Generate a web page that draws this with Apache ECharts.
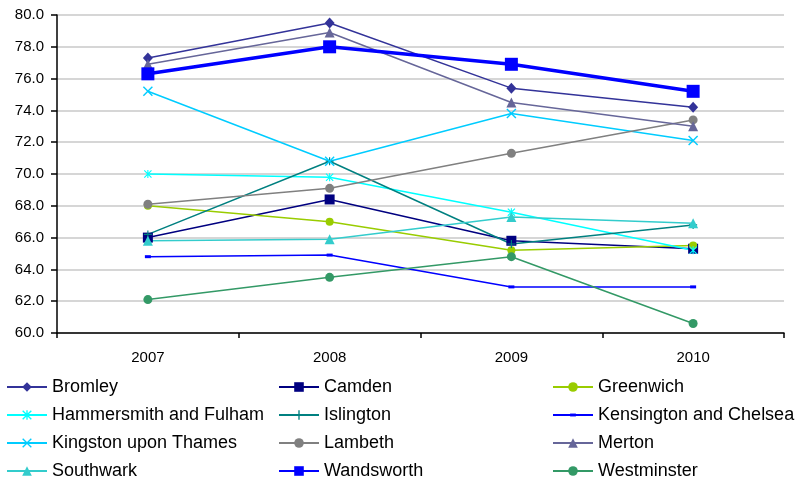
<!DOCTYPE html>
<html>
<head>
<meta charset="utf-8">
<script src="https://cdn.jsdelivr.net/npm/echarts@6/dist/echarts.min.js"></script>
<style>
  html, body { margin: 0; padding: 0; background: #fff; }
  #chart { width: 801px; height: 481px; }
</style>
</head>
<body>
<div id="chart"></div>
<script>
// Years on the category axis
const years = ['2007', '2008', '2009', '2010'];

// Values per borough
const bromley      = [77.3, 79.5, 75.4, 74.2];
const camden       = [66.0, 68.4, 65.8, 65.3];
const greenwich    = [68.0, 67.0, 65.2, 65.5];
const hammersmith  = [70.0, 69.8, 67.6, 65.2];
const islington    = [66.2, 70.8, 65.6, 66.8];
const kensington   = [64.8, 64.9, 62.9, 62.9];
const kingston     = [75.2, 70.8, 73.8, 72.1];
const lambeth      = [68.1, 69.1, 71.3, 73.4];
const merton       = [76.9, 78.9, 74.5, 73.0];
const southwark    = [65.8, 65.9, 67.3, 66.9];
const wandsworth   = [76.3, 78.0, 76.9, 75.2];
const westminster  = [62.1, 63.5, 64.8, 60.6];

// Y axis range and tick step
const yMin = 60, yMax = 80, yStep = 2;

const xShape = 'path://M0,1 L1,0 L5,4 L9,0 L10,1 L6,5 L10,9 L9,10 L5,6 L1,10 L0,9 L4,5 Z';
const plusShape = 'path://M4.3,0 H5.7 V4.3 H10 V5.7 H5.7 V10 H4.3 V5.7 H0 V4.3 H4.3 Z';
const starShape = 'path://M0,1 L1,0 L5,4 L9,0 L10,1 L6,5 L10,9 L9,10 L5,6 L1,10 L0,9 L4,5 Z M4.3,0 H5.7 V10 H4.3 Z';
// short horizontal dash centred in a 10x10 box (the lone moves fix the box size)
const dashShape = 'path://M0,0 M10,10 M2,3.5 H8 V6.5 H2 Z';

const defs = [
  { name: 'Bromley', data: bromley, color: '#333399', symbol: 'diamond', size: [10, 11] },
  { name: 'Camden', data: camden, color: '#000080', symbol: 'rect', size: 10 },
  { name: 'Greenwich', data: greenwich, color: '#99CC00', symbol: 'circle', size: 8 },
  { name: 'Hammersmith and Fulham', data: hammersmith, color: '#00FFFF', symbol: starShape, size: 8 },
  { name: 'Islington', data: islington, color: '#008080', symbol: plusShape, size: 8 },
  { name: 'Kensington and Chelsea', data: kensington, color: '#0000FF', symbol: dashShape, size: 10 },
  { name: 'Kingston upon Thames', data: kingston, color: '#00CCFF', symbol: xShape, size: 10 },
  { name: 'Lambeth', data: lambeth, color: '#808080', symbol: 'circle', size: 9 },
  { name: 'Merton', data: merton, color: '#666699', symbol: 'triangle', size: 10 },
  { name: 'Southwark', data: southwark, color: '#33CCCC', symbol: 'triangle', size: 10 },
  { name: 'Wandsworth', data: wandsworth, color: '#0000FF', symbol: 'rect', size: 13, width: 3.5 },
  { name: 'Westminster', data: westminster, color: '#339966', symbol: 'circle', size: 9 }
];

const series = defs.map(d => ({
  name: d.name,
  type: 'line',
  data: d.data,
  symbol: d.symbol,
  symbolSize: d.size,
  symbolKeepAspect: true,
  showAllSymbol: true,
  animation: false,
  lineStyle: { color: d.color, width: d.width || 1.5 },
  itemStyle: { color: d.color, borderWidth: 0 }
}));

// Legend laid out in three columns
const legendCols = [
  ['Bromley', 'Hammersmith and Fulham', 'Kingston upon Thames', 'Southwark'],
  ['Camden', 'Islington', 'Lambeth', 'Wandsworth'],
  ['Greenwich', 'Kensington and Chelsea', 'Merton', 'Westminster']
];
const legendLeft = [6, 278, 552];

const legend = legendCols.map((col, i) => ({
  orient: 'vertical',
  left: legendLeft[i],
  top: 378,
  itemWidth: 40,
  itemHeight: 12,
  itemGap: 10,
  padding: 0,
  selectedMode: false,
  data: col,
  textStyle: { fontFamily: 'Liberation Sans', fontSize: 18, color: '#000', lineHeight: 18, padding: [0, 0, 0, 0] }
}));

const chart = echarts.init(document.getElementById('chart'), null, { renderer: 'canvas' });
chart.setOption({
  backgroundColor: '#fff',
  animation: false,
  legend: legend,
  grid: { left: 57, right: 17, top: 15, bottom: 148, containLabel: false },
  xAxis: {
    type: 'category',
    data: years,
    boundaryGap: true,
    axisLine: { lineStyle: { color: '#000', width: 1.5 } },
    axisTick: { show: true, length: 5, lineStyle: { color: '#000', width: 1.5 } },
    axisLabel: { fontFamily: 'Liberation Sans', fontSize: 15, color: '#000', margin: 17 },
    splitLine: { show: false }
  },
  yAxis: {
    type: 'value',
    min: yMin,
    max: yMax,
    interval: yStep,
    axisLine: { show: true, lineStyle: { color: '#000', width: 1.5 } },
    axisTick: { show: true, length: 6, lineStyle: { color: '#000', width: 1.5 } },
    axisLabel: {
      fontFamily: 'Liberation Sans', fontSize: 15, color: '#000', margin: 13,
      formatter: v => v.toFixed(1)
    },
    splitLine: { show: true, lineStyle: { color: '#C8C8C8', width: 1.5 } }
  },
  series: series
});
</script>
</body>
</html>
